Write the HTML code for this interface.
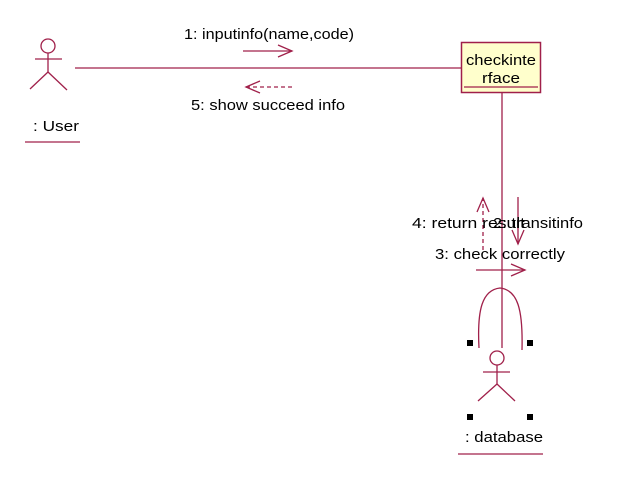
<!DOCTYPE html>
<html><head><style>
html,body{margin:0;padding:0;background:#fff;}
svg{display:block;}
text{font-family:"Liberation Sans",sans-serif;font-size:15px;fill:#000;}
</style></head><body>
<svg width="618" height="492" viewBox="0 0 618 492" xmlns="http://www.w3.org/2000/svg">
<g stroke="#a0204a" stroke-width="1.3" fill="none">
<circle cx="48" cy="46" r="7"/>
<line x1="35" y1="59" x2="62" y2="59"/>
<line x1="48" y1="53" x2="48" y2="72"/>
<line x1="48" y1="72" x2="30" y2="89"/>
<line x1="48" y1="72" x2="67" y2="90"/>
<line x1="25" y1="142" x2="80" y2="142"/>
<line x1="75" y1="68" x2="461" y2="68"/>
<line x1="243" y1="51" x2="292" y2="51"/>
<polyline points="278,45 292,51 278,57"/>
<line x1="246" y1="87" x2="295" y2="87" stroke-dasharray="4,3"/>
<polyline points="260,81 246,87 260,93"/>
<line x1="502" y1="93" x2="502" y2="348"/>
<path d="M479,348 C477,310 482,290 500,288 C518,290 523,310 522,350"/>
<line x1="483" y1="250" x2="483" y2="198" stroke-dasharray="4,3"/>
<polyline points="477,212 483,198 489,212"/>
<line x1="518" y1="197" x2="518" y2="244"/>
<polyline points="512,230 518,244 524,230"/>
<line x1="476" y1="270" x2="525" y2="270"/>
<polyline points="511,264 525,270 511,276"/>
<circle cx="497" cy="358" r="7"/>
<line x1="483" y1="372" x2="510" y2="372"/>
<line x1="497" y1="365" x2="497" y2="384"/>
<line x1="497" y1="384" x2="478" y2="401"/>
<line x1="497" y1="384" x2="515" y2="401"/>
<line x1="458" y1="454" x2="543" y2="454"/>
</g>
<rect x="461.5" y="42.5" width="79" height="50" fill="#ffffcc" stroke="#a0204a" stroke-width="1.5"/>
<line x1="464" y1="87" x2="538" y2="87" stroke="#a0204a" stroke-width="1.3"/>
<text x="466" y="65" textLength="70" lengthAdjust="spacingAndGlyphs">checkinte</text>
<text x="482" y="83" textLength="38" lengthAdjust="spacingAndGlyphs">rface</text>
<g fill="#000">
<rect x="467" y="340" width="6" height="6"/><rect x="527" y="340" width="6" height="6"/>
<rect x="467" y="414" width="6" height="6"/><rect x="527" y="414" width="6" height="6"/>
</g>
<text x="184" y="39" textLength="170" lengthAdjust="spacingAndGlyphs">1: inputinfo(name,code)</text>
<text x="191" y="110" textLength="154" lengthAdjust="spacingAndGlyphs">5: show succeed info</text>
<text x="33" y="131" textLength="46" lengthAdjust="spacingAndGlyphs">: User</text>
<text x="412" y="228" textLength="113" lengthAdjust="spacingAndGlyphs">4: return result</text>
<text x="493" y="228" textLength="90" lengthAdjust="spacingAndGlyphs">2: transitinfo</text>
<text x="435" y="259" textLength="130" lengthAdjust="spacingAndGlyphs">3: check correctly</text>
<text x="465" y="442" textLength="78" lengthAdjust="spacingAndGlyphs">: database</text>
</svg>
</body></html>
